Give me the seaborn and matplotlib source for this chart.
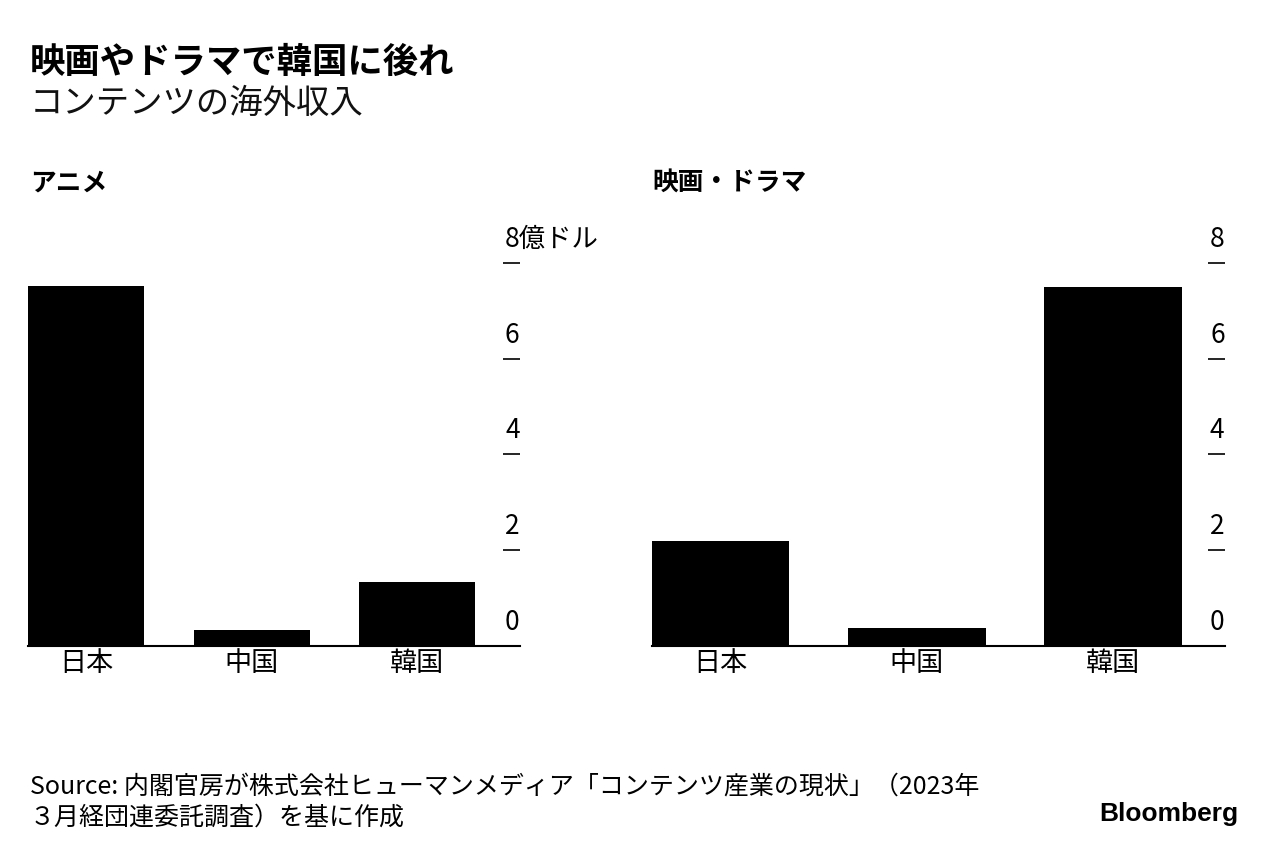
import numpy as np
import pandas as pd
import matplotlib
matplotlib.use('Agg')
import matplotlib.pyplot as plt
import matplotlib.transforms as mtransforms
import seaborn as sns

# Data (in 100 million USD)
countries = ['日本', '中国', '韓国']
anime_values = [7.52, 0.33, 1.34]
drama_values = [2.19, 0.38, 7.50]
y_ticks = [0, 2, 4, 6, 8]
left_tick_labels = ['0', '2', '4', '6', '8億ドル']
right_tick_labels = ['0', '2', '4', '6', '8']

sns.set_theme(style='white')
plt.rcParams['font.family'] = ['Noto Sans CJK JP', 'DejaVu Sans']

fig = plt.figure(figsize=(12.78, 8.58), dpi=100)

bottom = 1 - 646 / 858
height = 8.6 * 47.9 / 858
ax1 = fig.add_axes([28 / 1278, bottom, 492 / 1278, height])
ax2 = fig.add_axes([652 / 1278, bottom, 573 / 1278, height])


def draw_panel(ax, values, tick_labels, xmax):
    df = pd.DataFrame({'country': countries, 'value': values})
    sns.barplot(data=df, x='country', y='value', color='black', saturation=1,
                width=0.7, ax=ax, linewidth=0)
    ax.set_xlim(-0.35, xmax)
    ax.set_ylim(0, 8.6)
    ax.set_xlabel('')
    ax.set_ylabel('')
    sns.despine(ax=ax, left=True, right=True, top=True)
    ax.spines['bottom'].set_color('black')
    ax.spines['bottom'].set_linewidth(1.5)
    ax.tick_params(axis='x', length=0, pad=3, labelsize=19.5, colors='black')

    # short tick marks inside the right edge, labels above them
    ax.yaxis.tick_right()
    ax.set_yticks([t for t in y_ticks if t > 0])
    ax.tick_params(axis='y', direction='in', length=12, width=1.2,
                   colors='black', labelright=False, labelleft=False)
    trans = mtransforms.blended_transform_factory(ax.transAxes, ax.transData)
    trans = mtransforms.offset_copy(trans, fig=fig, x=-15, y=16, units='dots')
    for t, lab in zip(y_ticks, tick_labels):
        ax.text(1.0, t, lab, transform=trans, ha='left', va='baseline',
                fontsize=19, color='black')
    ax.grid(False)


draw_panel(ax1, anime_values, left_tick_labels, 2.62)
draw_panel(ax2, drama_values, right_tick_labels, 2.57)

# titles
fig.text(30 / 1278, 1 - 62 / 858, '映画やドラマで韓国に後れ', fontsize=25.5,
         fontweight='bold', va='center', ha='left', color='black')
fig.text(30 / 1278, 1 - 103 / 858, 'コンテンツの海外収入', fontsize=24,
         va='center', ha='left', color='#111111')
fig.text(30 / 1278, 1 - 183 / 858, 'アニメ', fontsize=18.5, fontweight='bold',
         va='center', ha='left', color='black')
fig.text(652 / 1278, 1 - 183 / 858, '映画・ドラマ', fontsize=18.5, fontweight='bold',
         va='center', ha='left', color='black')

# source and branding
fig.text(30 / 1278, 1 - 786 / 858,
         'Source: 内閣官房が株式会社ヒューマンメディア「コンテンツ産業の現状」（2023年',
         fontsize=18, va='center', ha='left', color='black')
fig.text(30 / 1278, 1 - 818 / 858, '３月経団連委託調査）を基に作成',
         fontsize=18, va='center', ha='left', color='black')
fig.text(1238 / 1278, 1 - 814 / 858, 'Bloomberg', fontsize=19, fontweight='bold',
         va='center', ha='right', color='black', family=['Liberation Sans', 'DejaVu Sans'])

fig.savefig('out.png', dpi=100, facecolor='white')
